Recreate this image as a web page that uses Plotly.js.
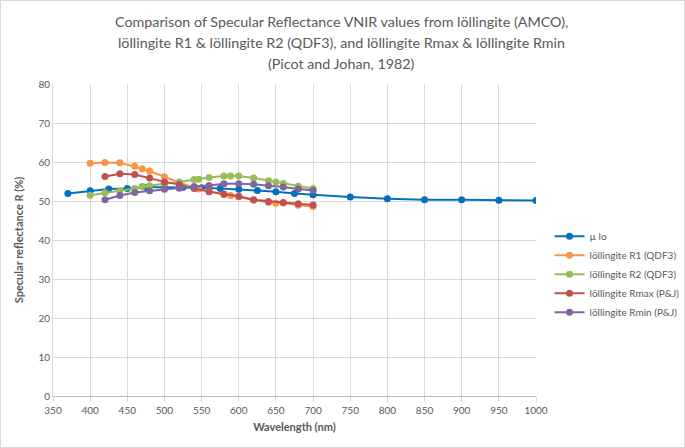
<!DOCTYPE html>
<html>
<head>
<meta charset="utf-8">
<script src="https://cdn.plot.ly/plotly-3.0.1.min.js"></script>
<style>
html,body{margin:0;padding:0;background:#fff;}
#chart{width:683px;height:446px;border:1px solid #d9d9d9;}
</style>
</head>
<body>
<div id="chart"></div>
<script>
// AMCO (µ lo)
const wlAMCO = [370,400,425,450,475,500,525,550,575,600,625,650,675,700,750,800,850,900,950,1000];
const rAMCO  = [51.9,52.6,53.1,53.2,53.5,53.5,53.5,53.4,53.2,53.0,52.7,52.4,51.9,51.6,51.0,50.6,50.3,50.3,50.2,50.1];

// QDF3 wavelengths
const wlQDF = [400,420,440,460,470,480,500,520,540,546,560,580,589,600,620,640,650,660,680,700];
const rR1   = [59.7,59.9,59.8,58.9,58.3,57.7,56.2,54.7,53.5,53.1,52.5,51.6,51.4,51.1,50.2,49.6,49.4,49.5,48.9,48.6];
const rR2   = [51.5,52.1,52.6,53.2,53.7,53.9,54.4,54.9,55.5,55.6,56.0,56.4,56.4,56.4,55.9,55.2,54.9,54.5,53.8,53.2];

// Picot & Johan
const wlPJ  = [420,440,460,480,500,520,540,560,580,600,620,640,660,680,700];
const rRmax = [56.3,57.0,56.8,55.9,54.9,54.2,53.2,52.4,51.8,51.2,50.3,49.9,49.6,49.3,49.0];
const rRmin = [50.3,51.4,52.2,52.6,53.0,53.3,53.7,54.0,54.4,54.4,54.3,53.9,53.6,53.1,52.7];

const names = ['µ lo','löllingite R1 (QDF3)','löllingite R2 (QDF3)','löllingite Rmax (P&J)','löllingite Rmin (P&J)'];
const colors = ['#0070C0','#F79646','#9BBB59','#C0504D','#8064A2'];
const titleLines = [
  'Comparison of Specular Reflectance VNIR values from löllingite (AMCO),',
  'löllingite R1 &amp; löllingite R2 (QDF3), and löllingite Rmax &amp; löllingite Rmin',
  '(Picot and Johan, 1982)'
];
const xs = [wlAMCO, wlQDF, wlQDF, wlPJ, wlPJ];
const ys = [rAMCO, rR1, rR2, rRmax, rRmin];

const traces = xs.map((x,i)=>({
  x: x, y: ys[i], name: names[i], type:'scatter', mode:'lines+markers',
  line:{color:colors[i], width:2},
  marker:{color:colors[i], size:7, symbol:'circle'}
}));

const font = "Lato, 'Liberation Sans', sans-serif";
const grey = '#595959';
const W = 683, H = 446;
const M = {l:52, r:148, t:83, b:51};
const plotH = H - M.t - M.b;
const plotW = W - M.l - M.r;

// title lines centred on the whole chart
const lineCentersPx = [20, 41, 62];
const annotations = titleLines.map((t,i)=>({
  text:t, showarrow:false, xref:'paper', yref:'paper',
  x:(W/2 - 1 - M.l)/plotW, xanchor:'center',
  y:(H - M.b - lineCentersPx[i])/plotH, yanchor:'middle',
  font:{family:font, size:14.3, color:grey}
}));

const layout = {
  width:W, height:H,
  margin:{l:M.l, r:M.r, t:M.t, b:M.b, autoexpand:false},
  paper_bgcolor:'#fff', plot_bgcolor:'#fff',
  font:{family:font, color:grey, size:10},
  annotations: annotations,
  xaxis:{
    range:[350,1000], dtick:50, tick0:350,
    showgrid:true, gridcolor:'#d9d9d9', gridwidth:1,
    showline:true, linecolor:'#bfbfbf', linewidth:1,
    ticks:'outside', ticklen:5, tickcolor:'#d9d9d9',
    zeroline:false,
    tickfont:{size:10, color:grey},
    title:{text:'Wavelength (nm)', font:{size:11, color:grey, weight:'bold'}, standoff:8}
  },
  yaxis:{
    range:[0,80], dtick:10,
    showgrid:true, gridcolor:'#d9d9d9', gridwidth:1,
    showline:true, linecolor:'#d9d9d9', linewidth:1,
    ticks:'', zeroline:false,
    tickfont:{size:10, color:grey},
    title:{text:'Specular reflectance R (%)', font:{size:11, color:grey, weight:'bold'}, standoff:12}
  },
  legend:{
    x:1.028, xanchor:'left', y:0.39, yanchor:'middle',
    font:{size:10, color:grey}, tracegroupgap:0,
    bgcolor:'rgba(0,0,0,0)', itemwidth:30
  },
  showlegend:true
};

Plotly.newPlot('chart', traces, layout, {displayModeBar:false, staticPlot:true});
</script>
</body>
</html>
